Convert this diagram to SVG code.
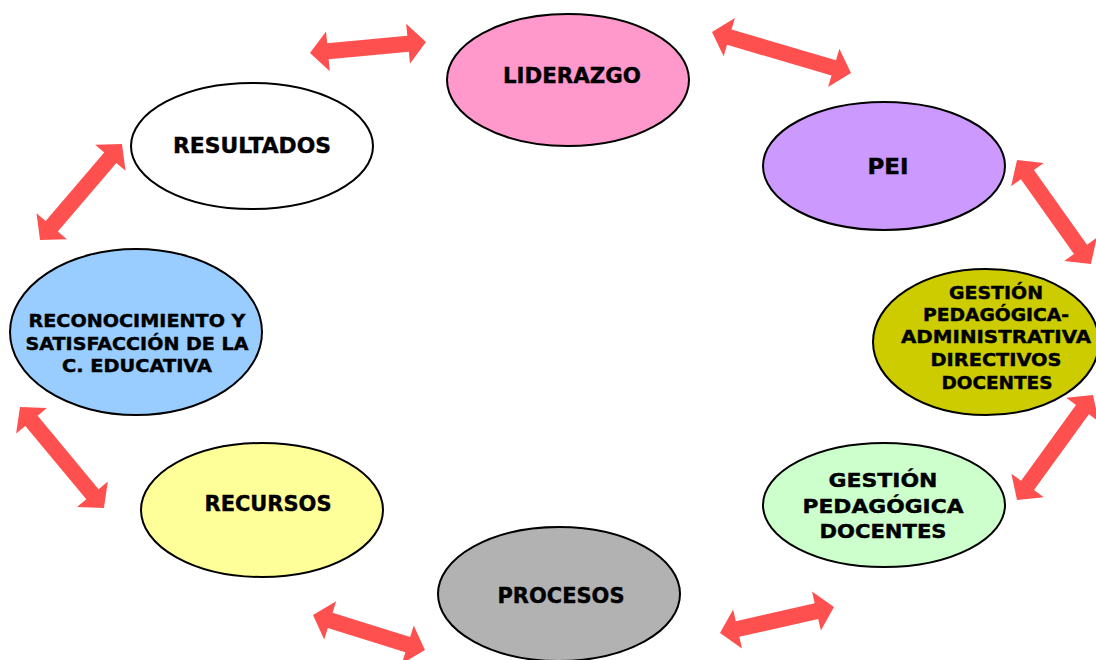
<svg xmlns="http://www.w3.org/2000/svg" width="1096" height="660" viewBox="0 0 1096 660">
<style>
.n{stroke:#000;stroke-width:2}
.t{font-family:"DejaVu Sans",Verdana,sans-serif;font-weight:bold;fill:#000;stroke:#000;stroke-width:0.4;text-anchor:middle}
.a{fill:#FF5050}
</style>
<rect width="1096" height="660" fill="#fff"/>
<g id="connectors">
<polygon class="a" transform="translate(310,53) rotate(-5.4)" points="0,0 18,-20 18,-8 98.5,-8 98.5,-20 116.5,0 98.5,20 98.5,8 18,8 18,20"/>
<polygon class="a" transform="translate(712,32) rotate(16.4)" points="0,0 18,-20 18,-8 126.9,-8 126.9,-20 144.9,0 126.9,20 126.9,8 18,8 18,20"/>
<polygon class="a" transform="translate(1017,160) rotate(54.6)" points="0,0 18,-20 18,-8 109.6,-8 109.6,-20 127.6,0 109.6,20 109.6,8 18,8 18,20"/>
<polygon class="a" transform="translate(1093,395) rotate(125.9)" points="0,0 18,-20 18,-8 111.6,-8 111.6,-20 129.6,0 111.6,20 111.6,8 18,8 18,20"/>
<polygon class="a" transform="translate(720,633) rotate(-12.8)" points="0,0 18,-20 18,-8 98.9,-8 98.9,-20 116.9,0 98.9,20 98.9,8 18,8 18,20"/>
<polygon class="a" transform="translate(313,615) rotate(17.4)" points="0,0 18,-20 18,-8 99.3,-8 99.3,-20 117.3,0 99.3,20 99.3,8 18,8 18,20"/>
<polygon class="a" transform="translate(20,407) rotate(50.3)" points="0,0 18,-20 18,-8 113.4,-8 113.4,-20 131.4,0 113.4,20 113.4,8 18,8 18,20"/>
<polygon class="a" transform="translate(122,144) rotate(130.5)" points="0,0 18,-20 18,-8 108.2,-8 108.2,-20 126.2,0 108.2,20 108.2,8 18,8 18,20"/>
</g>
<g id="liderazgo">
<ellipse class="n" cx="568" cy="80" rx="121" ry="66" fill="#FF99CC"/>
<text class="t" x="572" y="83" font-size="21" textLength="138" lengthAdjust="spacingAndGlyphs">LIDERAZGO</text>
</g>
<g id="pei">
<ellipse class="n" cx="884" cy="166" rx="121" ry="64" fill="#CC99FF"/>
<text class="t" x="888" y="174" font-size="21" textLength="41" lengthAdjust="spacingAndGlyphs">PEI</text>
</g>
<g id="gestion-admin">
<ellipse class="n" cx="986" cy="342" rx="113" ry="73" fill="#CCCC00"/>
<text class="t" font-size="17"><tspan x="996" y="299" textLength="94" lengthAdjust="spacingAndGlyphs">GESTIÓN</tspan><tspan x="996" y="321" textLength="146" lengthAdjust="spacingAndGlyphs">PEDAGÓGICA-</tspan><tspan x="996" y="343" textLength="190" lengthAdjust="spacingAndGlyphs">ADMINISTRATIVA</tspan><tspan x="996" y="366" textLength="131" lengthAdjust="spacingAndGlyphs">DIRECTIVOS</tspan><tspan x="997" y="389" textLength="111" lengthAdjust="spacingAndGlyphs">DOCENTES</tspan></text>
</g>
<g id="gestion-docentes">
<ellipse class="n" cx="884" cy="505" rx="121" ry="62" fill="#CCFFCC"/>
<text class="t" font-size="19.5"><tspan x="883" y="487" textLength="109" lengthAdjust="spacingAndGlyphs">GESTIÓN</tspan><tspan x="883" y="513" textLength="161" lengthAdjust="spacingAndGlyphs">PEDAGÓGICA</tspan><tspan x="883" y="538" textLength="127" lengthAdjust="spacingAndGlyphs">DOCENTES</tspan></text>
</g>
<g id="procesos">
<ellipse class="n" cx="559" cy="594" rx="121" ry="67" fill="#B2B2B2"/>
<text class="t" x="561" y="603" font-size="21" textLength="127" lengthAdjust="spacingAndGlyphs">PROCESOS</text>
</g>
<g id="recursos">
<ellipse class="n" cx="262" cy="510" rx="121" ry="67" fill="#FFFF99"/>
<text class="t" x="268" y="511" font-size="21" textLength="127" lengthAdjust="spacingAndGlyphs">RECURSOS</text>
</g>
<g id="reconocimiento">
<ellipse class="n" cx="136" cy="332" rx="126" ry="83" fill="#99CCFF"/>
<text class="t" font-size="17"><tspan x="137" y="327" textLength="217" lengthAdjust="spacingAndGlyphs">RECONOCIMIENTO Y</tspan><tspan x="137" y="350" textLength="223" lengthAdjust="spacingAndGlyphs">SATISFACCIÓN DE LA</tspan><tspan x="137" y="372" textLength="150" lengthAdjust="spacingAndGlyphs">C. EDUCATIVA</tspan></text>
</g>
<g id="resultados">
<ellipse class="n" cx="252" cy="146" rx="121" ry="63" fill="#FFFFFF"/>
<text class="t" x="252" y="153" font-size="21" textLength="158" lengthAdjust="spacingAndGlyphs">RESULTADOS</text>
</g>
</svg>
